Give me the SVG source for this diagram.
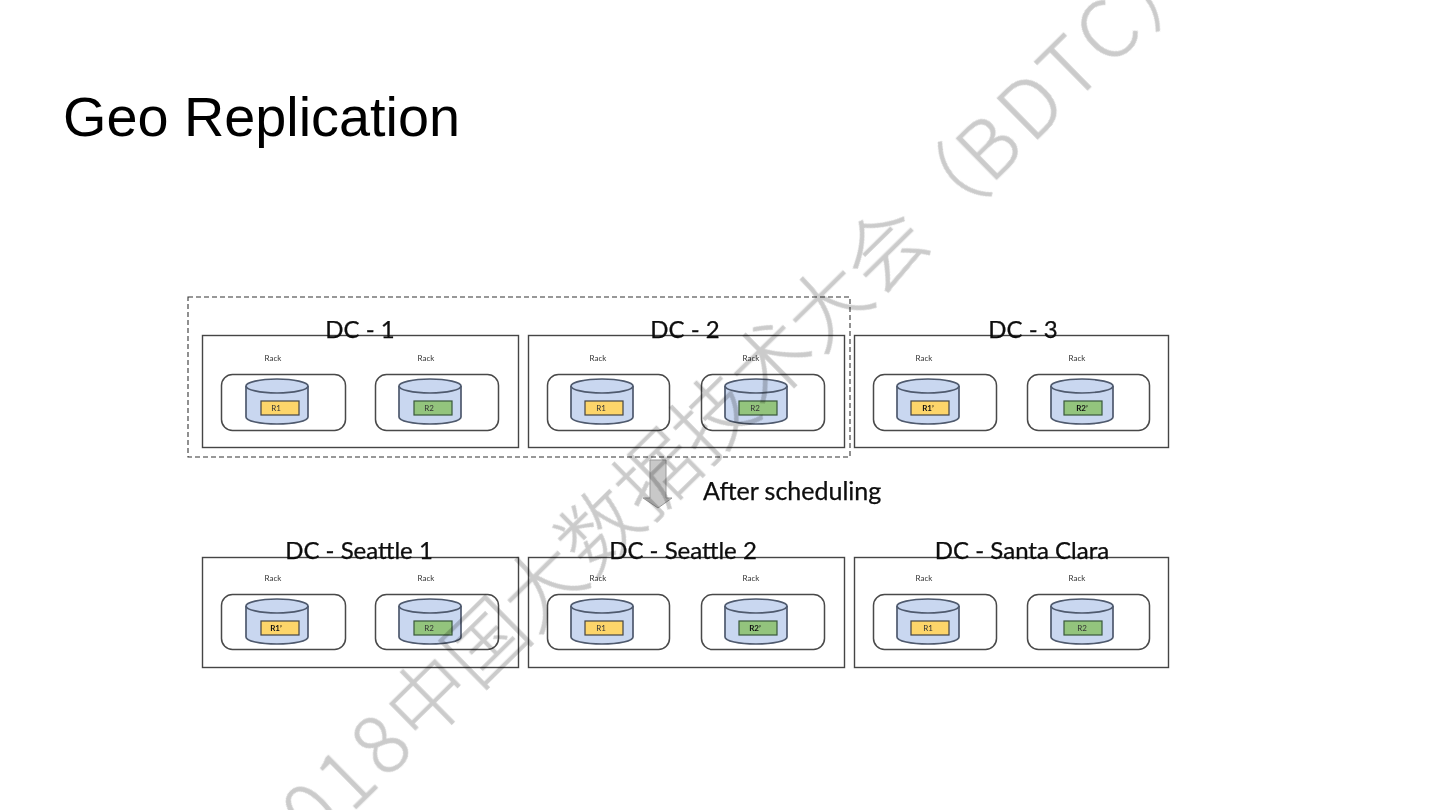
<svg xmlns="http://www.w3.org/2000/svg" width="1440" height="810" viewBox="0 0 1440 810">
<style>
.dc{fill:#fff;stroke:#444;stroke-width:1.4}
.rack{fill:#fff;stroke:#4a4a4a;stroke-width:1.5}
.t{font-family:"Lato","Noto Sans",sans-serif;fill:#0a0a0a}
.dct{font-size:24px;text-anchor:middle;stroke:#0a0a0a;stroke-width:.25}
.rk{font-size:8px;text-anchor:middle;fill:#333}
.r{font-size:8px;text-anchor:middle;fill:#333}
.b{font-weight:700;fill:#111}
.y{fill:#fdd56b;stroke:#444;stroke-width:1.2}
.g{fill:#93c47d;stroke:#38573a;stroke-width:1.2}
.wm{font-family:"Noto Sans CJK SC",sans-serif;font-size:80px;font-weight:300;fill:#cbcbcb;stroke:#cbcbcb;stroke-width:.6}
</style>
<defs>
<g id="disk">
<path d="M0 7V38C0 42 14 45 31 45S62 42 62 38V7" fill="#c9d7f0" stroke="#4f5a6e" stroke-width="1.7"/>
<ellipse cx="31" cy="7" rx="31" ry="7" fill="#c9d7f0" stroke="#4f5a6e" stroke-width="1.7"/>
</g>
<filter id="soft" x="0" y="0" width="100%" height="100%"><feGaussianBlur stdDeviation="0.4"/></filter>
</defs>
<rect width="1440" height="810" fill="#fff"/>
<g filter="url(#soft)">
<text x="63" y="136" font-family="Liberation Sans,Arial,sans-serif" font-size="55.800" fill="#000">Geo Replication</text>
<g id="connectors">
<path d="M650 460H666V498H672L658 508L643 498H650Z" fill="#c8c8c8" stroke="#999" stroke-width="1"/>
</g>
<rect id="selection" x="188" y="297" width="662" height="160" fill="none" stroke="#333" stroke-width="1.100" stroke-dasharray="5 3"/>
<g id="dc-1">
<rect class="dc" x="202.500" y="335.500" width="316" height="112"/>
<text class="t dct" x="360" y="338">DC - 1</text>
<text class="t rk" x="273" y="361">Rack</text><text class="t rk" x="426" y="361">Rack</text>
<rect class="rack" x="221.500" y="374.500" width="124" height="56" rx="11"/>
<rect class="rack" x="375.500" y="374.500" width="123" height="56" rx="11"/>
<use href="#disk" x="246" y="379"/><use href="#disk" x="399" y="379"/>
<rect class="y" x="261" y="401" width="38" height="14"/><rect class="g" x="414" y="401" width="38" height="14"/>
<text class="t r" x="276" y="411">R1</text><text class="t r" x="429" y="411">R2</text>
</g>
<g id="dc-2">
<rect class="dc" x="528.500" y="335.500" width="316" height="112"/>
<text class="t dct" x="685" y="338">DC - 2</text>
<text class="t rk" x="598" y="361">Rack</text><text class="t rk" x="751" y="361">Rack</text>
<rect class="rack" x="547.500" y="374.500" width="122" height="56" rx="11"/>
<rect class="rack" x="701.500" y="374.500" width="123" height="56" rx="11"/>
<use href="#disk" x="571" y="379"/><use href="#disk" x="725" y="379"/>
<rect class="y" x="585" y="401" width="38" height="14"/><rect class="g" x="739" y="401" width="38" height="14"/>
<text class="t r" x="601" y="411">R1</text><text class="t r" x="755" y="411">R2</text>
</g>
<g id="dc-3">
<rect class="dc" x="854.500" y="335.500" width="314" height="112"/>
<text class="t dct" x="1023" y="338">DC - 3</text>
<text class="t rk" x="924" y="361">Rack</text><text class="t rk" x="1077" y="361">Rack</text>
<rect class="rack" x="873.500" y="374.500" width="123" height="56" rx="11"/>
<rect class="rack" x="1027.500" y="374.500" width="122" height="56" rx="11"/>
<use href="#disk" x="897" y="379"/><use href="#disk" x="1051" y="379"/>
<rect class="y" x="911" y="401" width="38" height="14"/><rect class="g" x="1064" y="401" width="38" height="14"/>
<text class="t r b" x="928" y="411">R1’</text><text class="t r b" x="1082" y="411">R2’</text>
</g>
<text class="t" x="703" y="500" font-size="25" stroke="#0a0a0a" stroke-width=".25">After scheduling</text>
<g id="dc-seattle-1">
<rect class="dc" x="202.500" y="557.500" width="316" height="110"/>
<text class="t dct" x="359" y="559">DC - Seattle 1</text>
<text class="t rk" x="273" y="581">Rack</text><text class="t rk" x="426" y="581">Rack</text>
<rect class="rack" x="221.500" y="594.500" width="124" height="55" rx="11"/>
<rect class="rack" x="375.500" y="594.500" width="123" height="55" rx="11"/>
<use href="#disk" x="246" y="599"/><use href="#disk" x="399" y="599"/>
<rect class="y" x="261" y="621" width="38" height="14"/><rect class="g" x="414" y="621" width="38" height="14"/>
<text class="t r b" x="276" y="631">R1’</text><text class="t r" x="429" y="631">R2</text>
</g>
<g id="dc-seattle-2">
<rect class="dc" x="528.500" y="557.500" width="316" height="110"/>
<text class="t dct" x="683" y="559">DC - Seattle 2</text>
<text class="t rk" x="598" y="581">Rack</text><text class="t rk" x="751" y="581">Rack</text>
<rect class="rack" x="547.500" y="594.500" width="122" height="55" rx="11"/>
<rect class="rack" x="701.500" y="594.500" width="123" height="55" rx="11"/>
<use href="#disk" x="571" y="599"/><use href="#disk" x="725" y="599"/>
<rect class="y" x="585" y="621" width="38" height="14"/><rect class="g" x="739" y="621" width="38" height="14"/>
<text class="t r" x="601" y="631">R1</text><text class="t r b" x="755" y="631">R2’</text>
</g>
<g id="dc-santa-clara">
<rect class="dc" x="854.500" y="557.500" width="314" height="110"/>
<text class="t dct" x="1022" y="559">DC - Santa Clara</text>
<text class="t rk" x="924" y="581">Rack</text><text class="t rk" x="1077" y="581">Rack</text>
<rect class="rack" x="873.500" y="594.500" width="123" height="55" rx="11"/>
<rect class="rack" x="1027.500" y="594.500" width="122" height="55" rx="11"/>
<use href="#disk" x="897" y="599"/><use href="#disk" x="1051" y="599"/>
<rect class="y" x="911" y="621" width="38" height="14"/><rect class="g" x="1064" y="621" width="38" height="14"/>
<text class="t r" x="928" y="631">R1</text><text class="t r" x="1082" y="631">R2</text>
</g>
<text class="wm" transform="translate(282 882) rotate(-44.500)" style="mix-blend-mode:multiply"><tspan letter-spacing="5.600">2018</tspan>中国大数据技术大会（<tspan letter-spacing="6">BDTC</tspan>）</text>
</g>
</svg>
